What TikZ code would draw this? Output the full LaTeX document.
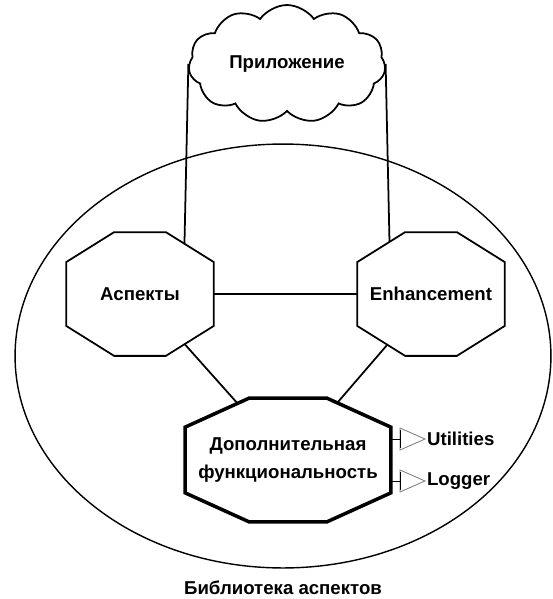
\documentclass[tikz,border=0pt]{standalone}
\usepackage{fontspec}
\setmainfont{Liberation Sans}
\usetikzlibrary{shapes.geometric, shapes.symbols, positioning}
\pgfdeclarelayer{background}
\pgfsetlayers{background,main}

% octagon round a named node: node, chamfer x, chamfer y
\newcommand{\octagonof}[4][]{\draw[line width=1pt,fill=white,#1] ([xshift=#3]#2.north west) -- ([xshift=-#3]#2.north east) -- ([yshift=-#4]#2.north east) -- ([yshift=#4]#2.south east) -- ([xshift=-#3]#2.south east) -- ([xshift=#3]#2.south west) -- ([yshift=#4]#2.south west) -- ([yshift=-#4]#2.north west) -- cycle;}

\begin{document}
\begin{tikzpicture}[x=0.02cm, y=-0.02cm, line width=1pt, every node/.style={font=\fontsize{10.6}{15.4}\selectfont\bfseries}, block/.style={minimum width=2.92cm, minimum height=2.44cm, inner sep=0pt, align=center}, link/.style={line width=1pt}, port/.style={draw=gray, line width=0.5pt}]

\useasboundingbox (0,0) rectangle (552,599);

% library
\node[draw, ellipse, line width=0.8pt, minimum width=10.72cm, minimum height=8.48cm, inner sep=0pt, label={[label distance=0.1cm]below:Библиотека аспектов}] (lib) at (283,356) {};

% application cloud
\node[draw, fill=white, cloud, cloud puffs=11, cloud puff arc=110, aspect=1.7, minimum width=3.94cm, minimum height=2.36cm, inner sep=0pt] (app) at (287,64) {Приложение};

% parts of the library
\node[block] (asp) at (140,294) {Аспекты};
\node[block] (enh) at (431,294) {Enhancement};
\node[block, minimum width=4.08cm] (add) at (288,460) {Дополнительная\\функциональность};

\begin{pgfonlayer}{background}
\draw[link] (app.west) -- ([xshift=-0.1cm]app.west |- asp.east);
\draw[link] (app.east) -- ([xshift=0.1cm]app.east |- enh.west);
\draw[link] (asp.center) -- (enh.center);\draw[link] (asp.center) -- (add.center);\draw[link] (enh.center) -- (add.center);
\octagonof{asp}{0.96cm}{0.6cm}
\octagonof{enh}{0.96cm}{0.6cm}
\octagonof[line width=2pt]{add}{1.28cm}{0.58cm}
\end{pgfonlayer}

% ports
\coordinate (uport) at (400,439);
\coordinate (lport) at (400,481);
\draw[port] (uport) -- ++(0,-11) -- ++(25,11) -- ++(-25,11) -- cycle;
\draw[port] (lport) -- ++(0,-11) -- ++(25,11) -- ++(-25,11) -- cycle;
\draw (add.east |- uport) -- (uport) ++(0,-9) -- ++(0,18);
\draw (add.east |- lport) -- (lport) ++(0,-9) -- ++(0,18);
\node[anchor=west, inner sep=1pt] (util) at ([xshift=0.5cm]uport) {Utilities};
\node[anchor=west, inner sep=1pt] (log) at ([xshift=0.5cm]lport) {Logger};

\end{tikzpicture}
\end{document}
